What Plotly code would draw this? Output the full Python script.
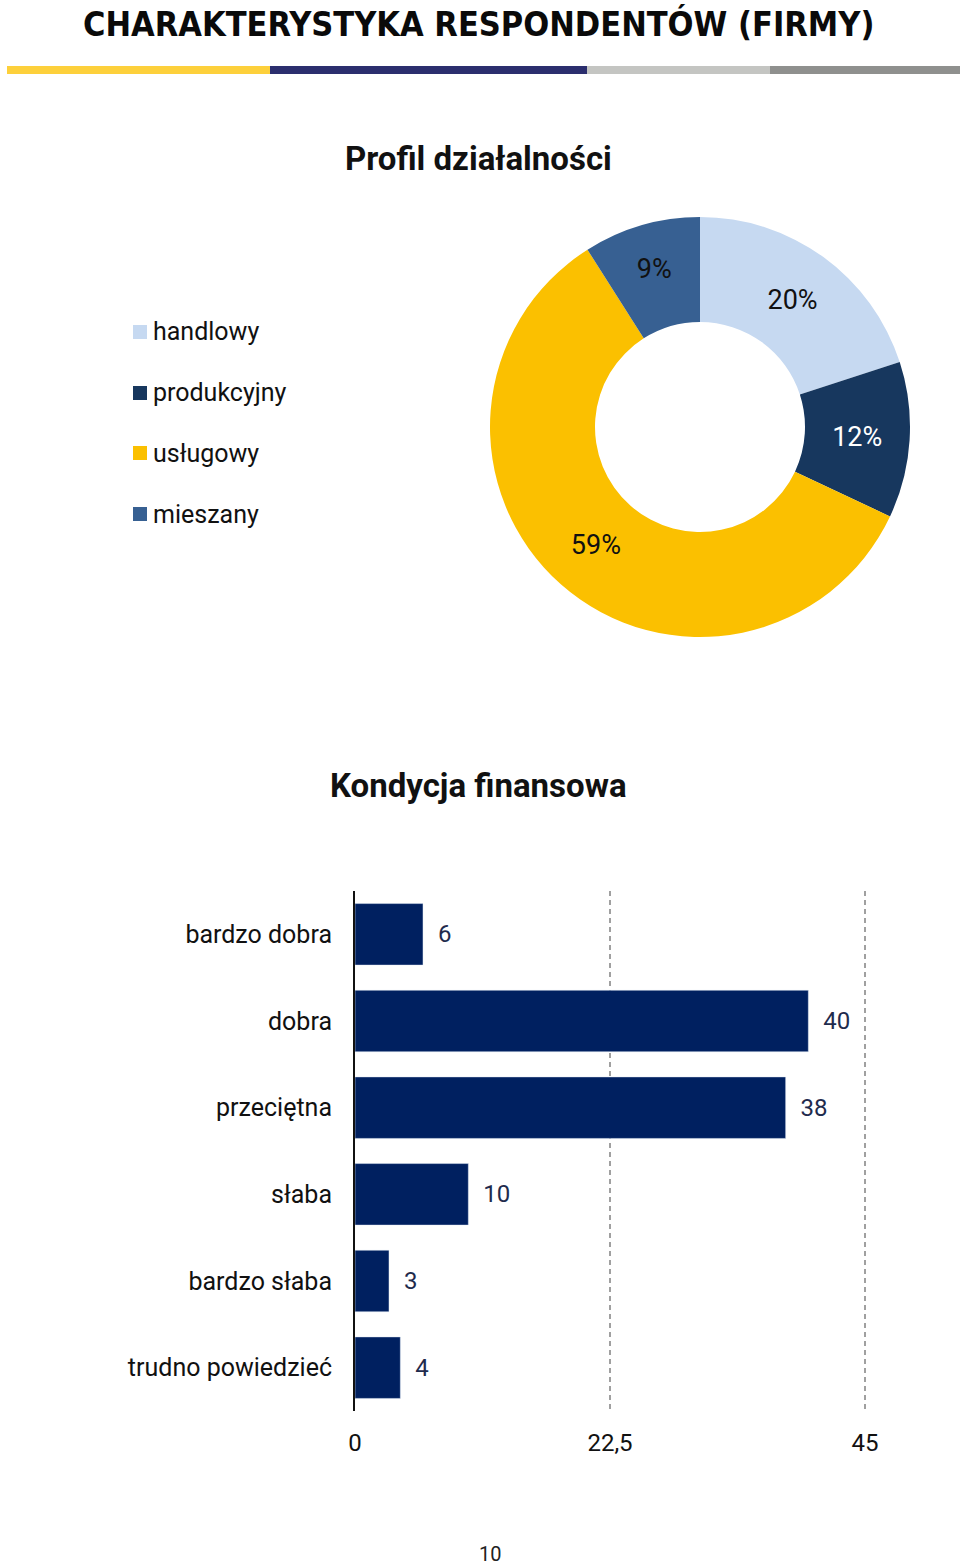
import plotly.graph_objects as go

W, H = 960, 1565

# ---- data ----
header_title = "CHARAKTERYSTYKA RESPONDENTÓW (FIRMY)"
pie_title = "Profil działalności"
pie_labels = ["handlowy", "produkcyjny", "usługowy", "mieszany"]
pie_values = [20, 12, 59, 9]
pie_colors = ["#C6D9F1", "#17375E", "#FBC000", "#376092"]
pie_text_colors = ["#111111", "#FFFFFF", "#111111", "#111111"]

bar_title = "Kondycja finansowa"
bar_categories = ["bardzo dobra", "dobra", "przeciętna", "słaba", "bardzo słaba", "trudno powiedzieć"]
bar_values = [6, 40, 38, 10, 3, 4]
x_tickvals = [0, 22.5, 45]
x_ticktext = ["0", "22,5", "45"]
page_number = "10"

FONT = "Roboto"


def px(x):
    return x / W


def py(y):
    return 1 - y / H


fig = go.Figure()

fig.add_trace(go.Pie(
    labels=pie_labels,
    values=pie_values,
    hole=0.5,
    sort=False,
    direction="clockwise",
    rotation=0,
    marker=dict(colors=pie_colors, line=dict(width=0)),
    texttemplate="%{value}%",
    textposition="inside",
    insidetextorientation="horizontal",
    textfont=dict(family=FONT, size=27, color=pie_text_colors),
    showlegend=False,
    domain=dict(x=[px(490), px(910)], y=[py(637), py(217)]),
))

fig.add_trace(go.Bar(
    x=bar_values,
    y=bar_categories,
    orientation="h",
    marker=dict(color="#002060"),
    text=bar_values,
    texttemplate="\u00a0\u00a0%{text}",
    textposition="outside",
    textfont=dict(family=FONT, size=24, color="#1F2B4D"),
    cliponaxis=False,
    showlegend=False,
))

# 45 units span 355..865 px; range end padded so the 45 gridline is still drawn
X_END = 45.2
fig.update_layout(
    width=W, height=H,
    autosize=False,
    showlegend=False,
    margin=dict(l=0, r=0, t=0, b=0, pad=0, autoexpand=False),
    paper_bgcolor="white",
    plot_bgcolor="white",
    bargap=0.29,
    font=dict(family=FONT, color="#111111"),
    xaxis=dict(
        domain=[px(355), px(355 + 510 * X_END / 45)],
        range=[0, X_END],
        tickvals=x_tickvals,
        ticktext=x_ticktext,
        showgrid=True,
        gridcolor="#A0A0A0",
        gridwidth=2,
        griddash="5px,4px",
        zeroline=False,
        showline=False,
        ticks="outside",
        ticklen=10,
        tickcolor="rgba(0,0,0,0)",
        tickfont=dict(family=FONT, size=24, color="#111111"),
        automargin=False,
        fixedrange=True,
    ),
    yaxis=dict(
        domain=[py(1411), py(891)],
        autorange="reversed",
        showline=True,
        linecolor="#111111",
        linewidth=2,
        showgrid=False,
        zeroline=False,
        ticks="",
        ticklabelstandoff=16,
        tickfont=dict(family=FONT, size=25, color="#111111"),
        automargin=False,
        fixedrange=True,
    ),
)

annotations = [
    dict(text="<b>" + header_title + "</b>", x=px(478), y=py(24), xref="paper", yref="paper",
         showarrow=False, xanchor="center", yanchor="middle",
         font=dict(family="DejaVu Sans Condensed, DejaVu Sans, sans-serif", size=34, color="#0A0A0A")),
    dict(text="<b>" + pie_title + "</b>", x=px(478), y=py(158), xref="paper", yref="paper",
         showarrow=False, xanchor="center", yanchor="middle",
         font=dict(family=FONT, size=33, color="#111111")),
    dict(text="<b>" + bar_title + "</b>", x=px(478), y=py(785), xref="paper", yref="paper",
         showarrow=False, xanchor="center", yanchor="middle",
         font=dict(family=FONT, size=33, color="#111111")),
    dict(text=page_number, x=px(490), y=py(1554), xref="paper", yref="paper",
         showarrow=False, xanchor="center", yanchor="middle",
         font=dict(family=FONT, size=20, color="#222222")),
]

shapes = []
band = [(7, 270, "#FDD03B"), (270, 587, "#2B2E6E"), (587, 770, "#C4C5C2"), (770, 960, "#8F908E")]
for x0, x1, c in band:
    shapes.append(dict(type="rect", xref="paper", yref="paper",
                       x0=px(x0), x1=px(x1), y0=py(74), y1=py(66),
                       fillcolor=c, line=dict(width=0), layer="above"))

legend_y = [332, 393, 453, 514]
for lab, col, yy in zip(pie_labels, pie_colors, legend_y):
    shapes.append(dict(type="rect", xref="paper", yref="paper",
                       x0=px(133), x1=px(147), y0=py(yy + 7), y1=py(yy - 7),
                       fillcolor=col, line=dict(width=0)))
    annotations.append(dict(text=lab, x=px(151), y=py(yy), xref="paper", yref="paper",
                            showarrow=False, xanchor="left", yanchor="middle",
                            font=dict(family=FONT, size=25, color="#111111")))

fig.update_layout(annotations=annotations, shapes=shapes)

post = (
    "document.documentElement.style.margin='0';"
    "document.body.style.margin='0';"
    "document.body.style.padding='0';"
    "document.documentElement.style.overflow='hidden';"
    "document.body.style.overflow='hidden';"
)

fig.write_html("out.html", config={"responsive": False, "displayModeBar": False}, post_script=post)
